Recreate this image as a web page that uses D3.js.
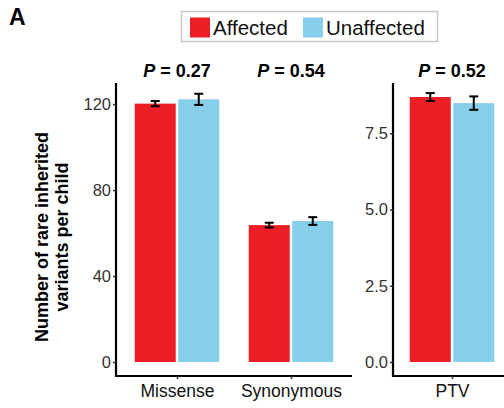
<!DOCTYPE html>
<html>
<head>
<meta charset="utf-8">
<script src="https://cdn.jsdelivr.net/npm/d3@7"></script>
<style>
  body { margin: 0; background: #fff; }
  svg { display: block; font-family: "Liberation Sans", Arial, Helvetica, sans-serif; }
</style>
</head>
<body>
<div id="chart"></div>
<script>
// data
const groups = ['Affected', 'Unaffected'];
const groupColors = ['#EC1F27', '#87CEEB'];
const leftCategories = ['Missense', 'Synonymous'];
const rightCategories = ['PTV'];
const affectedMean = [120.2, 63.7, 8.69];
const affectedErr = [1.2, 1.1, 0.13];
const unaffectedMean = [122.2, 65.6, 8.49];
const unaffectedErr = [2.6, 1.8, 0.22];
const pValues = ['0.27', '0.54', '0.52'];
const leftTicks = [0, 40, 80, 120];
const rightTicks = [0, 2.5, 5, 7.5];

const width = 504, height = 408;
const panelTop = 83, panelBottom = 376;

const svg = d3.select('#chart')
    .append('svg')
    .attr('width', width)
    .attr('height', height);

// panel letter
svg.append('text')
    .attr('x', 9)
    .attr('y', 25)
    .attr('font-size', '23px')
    .attr('font-weight', 'bold')
    .text('A');

// legend
const legend = svg.append('g');
legend.append('rect')
    .attr('x', 181.5).attr('y', 11.5)
    .attr('width', 256).attr('height', 30)
    .attr('fill', 'none')
    .attr('stroke', '#c8c8c8')
    .attr('stroke-width', 1.5);
const legendX = [190, 303];
groups.forEach((g, i) => {
    legend.append('rect')
        .attr('x', legendX[i]).attr('y', 17.5)
        .attr('width', 20).attr('height', 20)
        .attr('fill', groupColors[i]);
    legend.append('text')
        .attr('x', legendX[i] + 23)
        .attr('y', 35)
        .attr('font-size', '20.5px')
        .attr('fill', '#111')
        .text(g);
});

// build rows for each panel
const rows = [...leftCategories, ...rightCategories].map((c, i) => ({
    cat: c,
    p: pValues[i],
    vals: [
        { g: 0, mean: affectedMean[i], err: affectedErr[i] },
        { g: 1, mean: unaffectedMean[i], err: unaffectedErr[i] }
    ]
}));

function drawPanel(cats, xRange, pad, yDomain, ticks, fmt) {
    const data = rows.filter(r => cats.includes(r.cat));

    const x = d3.scalePoint()
        .domain(cats)
        .range(xRange)
        .padding(pad);

    const y = d3.scaleLinear()
        .domain(yDomain)
        .range([panelBottom, panelTop]);

    const barW = 41, gap = 2.5;
    const off = g => g === 0 ? -gap / 2 - barW : gap / 2;

    const g = svg.append('g');

    // bars
    data.forEach(r => {
        g.selectAll(null)
            .data(r.vals)
            .enter()
            .append('rect')
            .attr('x', d => x(r.cat) + off(d.g))
            .attr('y', d => y(d.mean))
            .attr('width', barW)
            .attr('height', d => y(0) - y(d.mean))
            .attr('fill', d => groupColors[d.g]);

        // error bars
        r.vals.forEach(d => {
            const cx = x(r.cat) + off(d.g) + barW / 2;
            g.append('line')
                .attr('x1', cx).attr('x2', cx)
                .attr('y1', y(d.mean - d.err)).attr('y2', y(d.mean + d.err))
                .attr('stroke', '#000').attr('stroke-width', 2);
            [d.mean - d.err, d.mean + d.err].forEach(v => {
                g.append('line')
                    .attr('x1', cx - 4.5).attr('x2', cx + 4.5)
                    .attr('y1', y(v)).attr('y2', y(v))
                    .attr('stroke', '#000').attr('stroke-width', 2);
            });
        });

        // P value label
        const t = g.append('text')
            .attr('x', x(r.cat))
            .attr('y', 77)
            .attr('text-anchor', 'middle')
            .attr('font-size', '18px')
            .attr('font-weight', 'bold');
        t.append('tspan').attr('font-style', 'italic').text('P');
        t.append('tspan').text(' = ' + r.p);
    });

    // y axis
    const yAxis = g.append('g')
        .attr('transform', `translate(${xRange[0]},0)`)
        .call(d3.axisLeft(y).tickValues(ticks).tickFormat(fmt).tickSize(3).tickPadding(2));
    yAxis.select('.domain')
        .attr('d', `M0,${panelTop}V${panelBottom + 1}`)
        .attr('stroke-width', 2.2);
    yAxis.selectAll('.tick line').attr('stroke', '#333').attr('stroke-width', 1.5);
    yAxis.selectAll('.tick text')
        .attr('font-size', '16.5px')
        .attr('fill', '#333')
        .attr('font-family', '"Liberation Sans", Arial, sans-serif');

    // x axis
    const xAxis = g.append('g')
        .attr('transform', `translate(0,${panelBottom})`)
        .call(d3.axisBottom(x).tickSize(3).tickPadding(6));
    xAxis.select('.domain')
        .attr('d', `M${xRange[0] - 1},0H${xRange[1]}`)
        .attr('stroke-width', 2.2);
    xAxis.selectAll('.tick line').attr('stroke', '#333').attr('stroke-width', 1.5);
    xAxis.selectAll('.tick text')
        .attr('font-size', '17.5px')
        .attr('fill', '#111')
        .attr('font-family', '"Liberation Sans", Arial, sans-serif');
}

drawPanel(leftCategories, [116, 352], 0.535, [-6.5, 129.8], leftTicks, d3.format('d'));
drawPanel(rightCategories, [393, 511], 0.5, [-0.46, 9.15], rightTicks, d3.format('.1f'));

// y axis title
const yTitle = svg.append('text')
    .attr('transform', 'translate(48,237) rotate(-90)')
    .attr('text-anchor', 'middle')
    .attr('font-size', '18px')
    .attr('font-weight', 'bold');
yTitle.append('tspan').attr('x', 0).attr('dy', 0).text('Number of rare inherited');
yTitle.append('tspan').attr('x', 0).attr('dy', '1.12em').text('variants per child');
</script>
</body>
</html>
